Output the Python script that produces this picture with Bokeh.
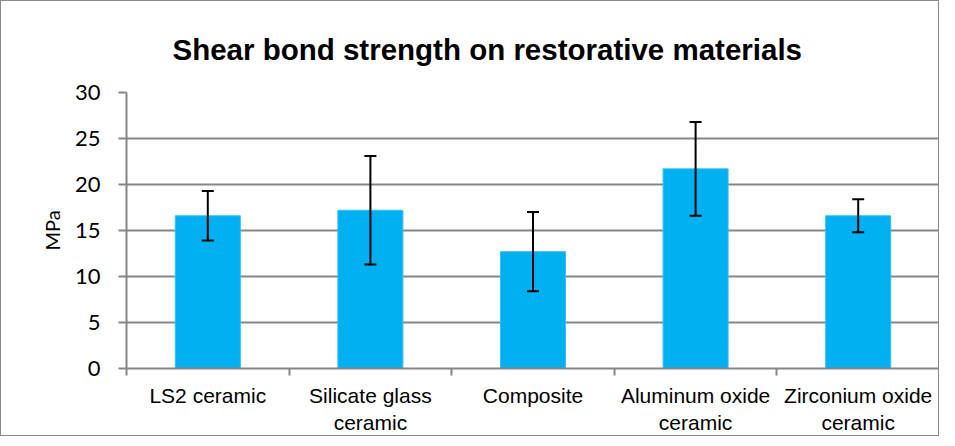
from bokeh.plotting import figure
from bokeh.models import ColumnDataSource, FixedTicker, Range1d, Title, Whisker
from bokeh.embed import file_html
from bokeh.resources import INLINE

categories = ["LS2 ceramic", "Silicate glass\nceramic", "Composite",
              "Aluminum oxide\nceramic", "Zirconium oxide\nceramic"]
means = [16.6, 17.2, 12.7, 21.7, 16.6]
sds = [2.7, 5.9, 4.3, 5.1, 1.8]
y_ticks = [0, 5, 10, 15, 20, 25, 30]

xpos = [i + 0.5 for i in range(len(categories))]
bounds = list(range(len(categories) + 1))
src = ColumnDataSource(dict(
    x=xpos, top=means,
    upper=[m + s for m, s in zip(means, sds)],
    lower=[m - s for m, s in zip(means, sds)],
))

p = figure(width=939, height=436, output_backend="svg", toolbar_location=None,
           x_range=Range1d(0, len(categories)), y_range=Range1d(0, 30),
           min_border_left=125, min_border_right=1, min_border_top=91,
           min_border_bottom=68)
p.styles = {"border": "1px solid #8a8a8a"}
p.outline_line_color = None
p.background_fill_color = "white"
p.border_fill_color = "white"

p.vbar(x="x", top="top", width=0.4, source=src, fill_color="#00B0F0",
       line_color="#33C0F3", line_width=1)

w = Whisker(base="x", upper="upper", lower="lower", source=src,
            line_color="black", line_width=2, level="overlay")
for h in (w.upper_head, w.lower_head):
    h.size = 12
    h.line_width = 2
    h.line_color = "black"
p.add_layout(w)

# y axis
ya = p.yaxis[0]
ya.ticker = FixedTicker(ticks=y_ticks)
ya.axis_line_color = "#868686"
ya.axis_line_width = 2
ya.major_tick_line_color = "#868686"
ya.major_tick_line_width = 2
ya.major_tick_out = 8
ya.major_tick_in = 0
ya.minor_tick_line_color = None
ya.major_label_text_font = "Lato"
ya.major_label_text_font_size = "22px"
ya.major_label_text_color = "#000000"
ya.major_label_standoff = 18
ya.axis_label = "MPa"
ya.axis_label_text_font = "Lato"
ya.axis_label_text_font_size = "20px"
ya.axis_label_text_font_style = "normal"
ya.axis_label_text_color = "#000000"
ya.axis_label_standoff = 8

# x axis: labels at centres, boundary tick marks as minor ticks
xa = p.xaxis[0]
xa.ticker = FixedTicker(ticks=xpos, minor_ticks=bounds)
xa.major_label_overrides = {x: c for x, c in zip(xpos, categories)}
xa.axis_line_color = "#868686"
xa.axis_line_width = 2
xa.major_tick_line_color = None
xa.minor_tick_line_color = "#868686"
xa.minor_tick_line_width = 2
xa.minor_tick_out = 7
xa.minor_tick_in = 0
xa.major_tick_out = 7
xa.major_tick_in = 0
xa.major_label_text_font = "Liberation Sans"
xa.major_label_text_font_size = "21px"
xa.major_label_text_color = "#000000"
xa.major_label_standoff = 8

p.xgrid.grid_line_color = None
p.ygrid.grid_line_color = "#868686"
p.ygrid.grid_line_width = 2
p.ygrid.ticker = FixedTicker(ticks=y_ticks)

t = Title(text="Shear bond strength on restorative materials",
          text_font="Liberation Sans", text_font_size="29.5px",
          text_font_style="bold", text_color="black", align="left",
          offset=46, standoff=54)
p.add_layout(t, "above")

open("out.html", "w").write(file_html(p, INLINE))
